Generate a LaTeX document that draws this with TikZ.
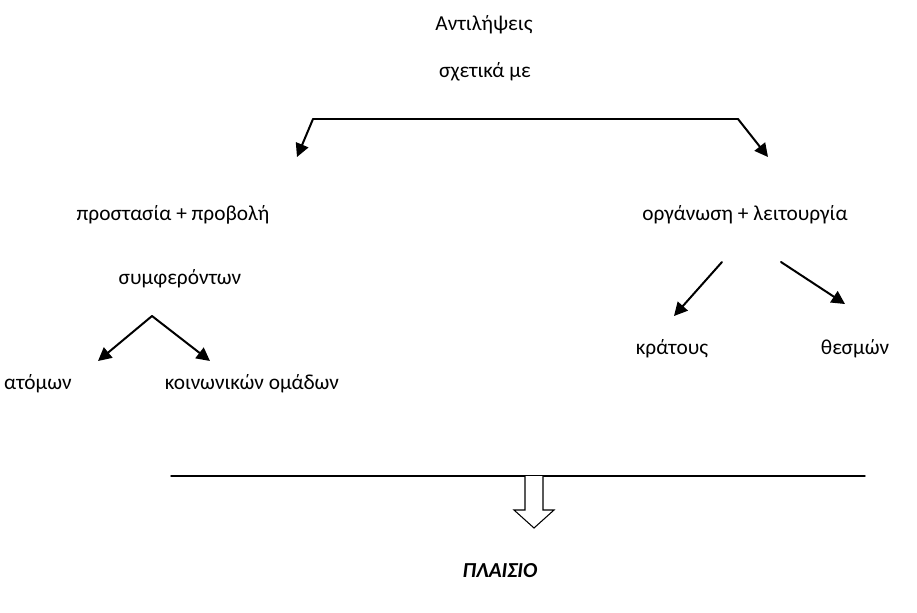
\documentclass[tikz,border=0pt]{standalone}
\usepackage{fontspec}
\setmainfont{Carlito}
\usepackage{tikz}
\usetikzlibrary{arrows.meta}

\begin{document}
\begin{tikzpicture}[x=0.75pt,y=-0.75pt,line cap=round]
	\tikzstyle{txt}=[inner sep=1pt,font=\fontsize{16}{18}\selectfont];
	\tikzstyle{pfeil}=[line width=1.5pt,-{Triangle[length=10pt,width=10pt]}];
	\tikzstyle{hohl}=[line width=0.8pt,line join=miter,fill=white];
%<--------------------------------------------------------------------------->%
	\useasboundingbox (0,0) rectangle (917,612);
	%% texts
	\node[txt] (ant) at (484,25)  {Αντιλήψεις};
	\node[txt] (sxe) at (485,72)  {σχετικά με};
	\node[txt] (pro) at (173,215) {προστασία + προβολή};
	\node[txt] (org) at (745,215) {οργάνωση + λειτουργία};
	\node[txt] (sym) at (180,279) {συμφερόντων};
	\node[txt] (ato) at (38,384)  {ατόμων};
	\node[txt] (koi) at (252,384) {κοινωνικών ομάδων};
	\node[txt] (kra) at (672,349) {κράτους};
	\node[txt] (the) at (855,349) {θεσμών};
	\node[txt,font=\fontsize{16}{18}\selectfont\bfseries\itshape] (pla) at (500,571) {ΠΛΑΙΣΙΟ};
	%% points
	\coordinate (L)  at (313,119);
	\coordinate (R)  at (738,119);
	\coordinate (Lt) at (297,157);
	\coordinate (Rt) at (768,157);
	\coordinate (V)  at (152,316);
	\coordinate (Va) at (98,361);
	\coordinate (Vb) at (210,361);
	\coordinate (Ka) at (722,262);
	\coordinate (Kt) at (674,316);
	\coordinate (Tha) at (781,262);
	\coordinate (Tht) at (845,304);
	\coordinate (S1) at (171,476);
	\coordinate (S2) at (865,476);
	%% arrows
	\draw[line width=1.5pt] (L) -- (R);
	\draw[pfeil] (L) -- (Lt);
	\draw[pfeil] (R) -- (Rt);
	\draw[pfeil] (V) -- (Va);
	\draw[pfeil] (V) -- (Vb);
	\draw[pfeil] (Ka) -- (Kt);
	\draw[pfeil] (Tha) -- (Tht);
	%% bar + hollow arrow
	\draw[line width=1.1pt] (S1) -- (S2);
	\draw[hohl] (525,476) -- (525,510) -- (514,510) -- (534,528) -- (554,510) -- (543,510) -- (543,476);
\end{tikzpicture}
\end{document}
